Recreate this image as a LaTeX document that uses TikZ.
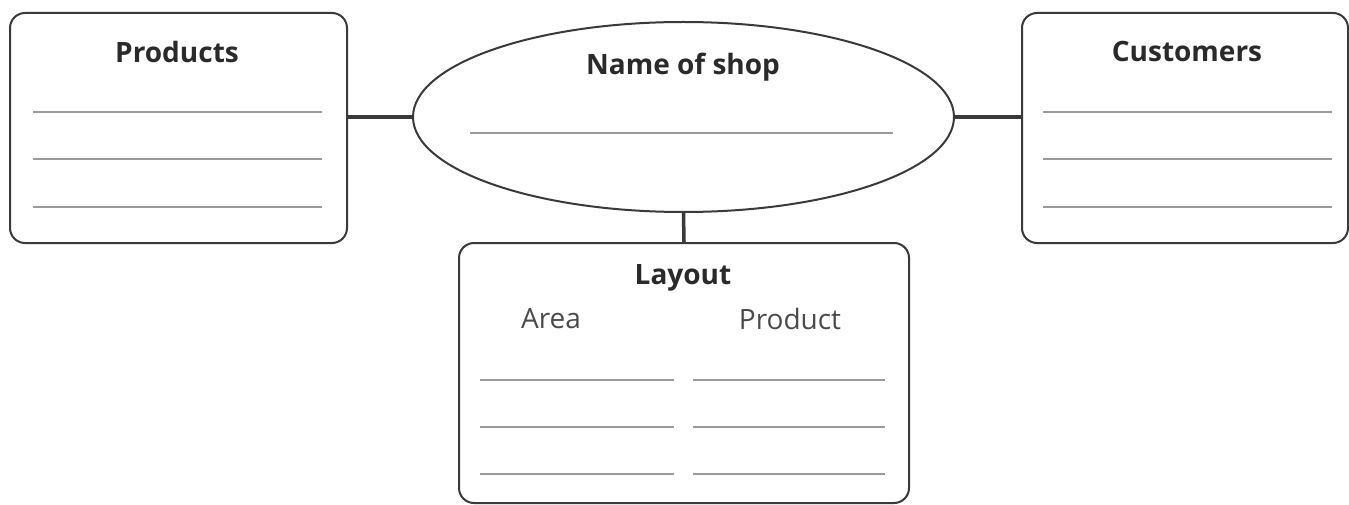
\documentclass[tikz,border=0pt]{standalone}
\usepackage{fontspec}
\setmainfont{Open Sans}
\usetikzlibrary{shapes.geometric}
\definecolor{edge}{HTML}{3A3A3A}
\definecolor{rule}{HTML}{9A9A9A}
\definecolor{txt}{HTML}{2A2A2A}
\tikzset{
  boxnode/.style={draw=edge, line width=2pt, rounded corners=15pt, rectangle, inner sep=0pt},
  shopnode/.style={draw=edge, line width=2pt, ellipse, inner sep=0pt},
  title/.style={font=\fontsize{28}{32}\selectfont\bfseries, text=txt, inner sep=0pt},
  sub/.style={font=\fontsize{28}{32}\selectfont, text=txt!85, inner sep=0pt},
  writeline/.style={draw=rule, line width=2pt},
  link/.style={draw=edge, line width=3.5pt}
}
\begin{document}
\begin{tikzpicture}[x=1pt,y=-1pt]
\useasboundingbox (0,0) rectangle (1349,505);
% boxes
\node[boxnode, minimum width=337pt, minimum height=230pt] (prod) at (178.5,128) {};
\node[boxnode, minimum width=326pt, minimum height=230pt] (cust) at (1185,128) {};
\node[boxnode, minimum width=450pt, minimum height=260pt] (lay) at (684,373) {};
\node[shopnode, minimum width=541pt, minimum height=190pt] (shop) at (683.5,117) {};
% titles
\node[title] (tprod) at (177,52) {Products};
\node[title] (tcust) at (1187,52) {Customers};
\node[title] (tshop) at (683,67) {Name of shop};
\node[title] (tlay) at (683,278) {Layout};
\node[sub] (tarea) at (551,319) {Area};
\node[sub] (tprd) at (790,319) {Product};
% write-in lines
\foreach \y in {112,159,207}{
  \draw[writeline] (33,\y) -- (322,\y);
  \draw[writeline] (1043,\y) -- (1332,\y);
}
\draw[writeline] (470,133) -- (893,133);
\foreach \y in {380,427,474}{
  \draw[writeline] (480,\y) -- (674,\y);
  \draw[writeline] (693,\y) -- (885,\y);
}
% connectors
\draw[link] (shop.west) -- (shop.west -| prod.east);
\draw[link] (shop.east) -- (shop.east -| cust.west);
\draw[link] (shop.south) -- (lay.north);
\end{tikzpicture}
\end{document}
